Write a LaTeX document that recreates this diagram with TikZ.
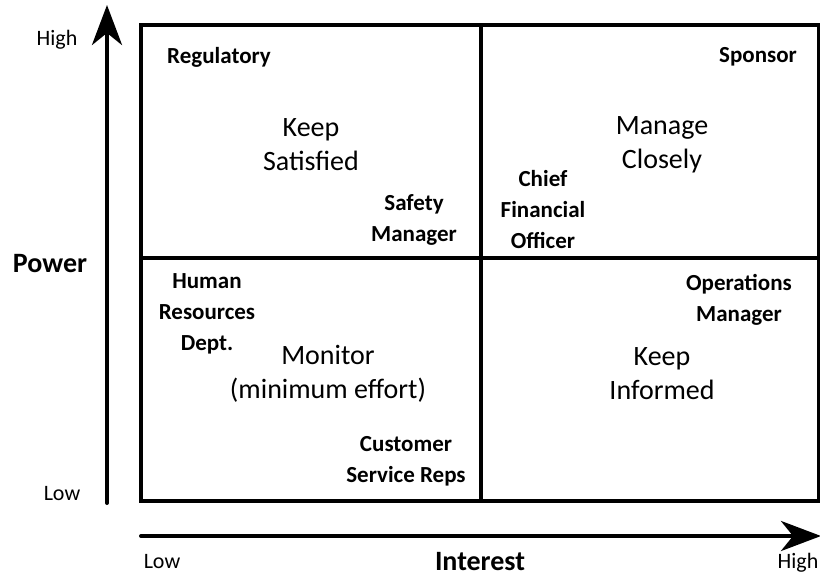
\documentclass[tikz,border=0pt]{standalone}
\usepackage{fontspec}
\setmainfont{Carlito}
\usetikzlibrary{arrows.meta}

\tikzset{%
   quadrant/.style={
    align=center,
    inner sep=0pt,
    font=\fontsize{28}{34}\selectfont
  },
   stakeholder/.style={
    align=center,
    inner sep=0pt,
    font=\bfseries\fontsize{23}{31}\selectfont
  },
   axis title/.style={
    inner sep=0pt,
    font=\bfseries\fontsize{28}{33}\selectfont
  },
   axis end/.style={
    inner sep=0pt,
    font=\fontsize{22}{25}\selectfont
  },
   axis/.style={
    line width=4pt,
    line cap=round,
    -{Stealth[length=40pt,width=30pt,inset=12pt]}
  },
}

\begin{document}
\begin{tikzpicture}[x=1pt, y=-1pt]
\useasboundingbox (0,0) rectangle (820,577);
%=========================================================================================================
% Grid
%=========================================================================================================

%Outer frame and the two dividing lines
\draw [line width=4pt] (141,25) rectangle (819,501);
\draw [line width=4pt] (481,25) -- (481,501);
\draw [line width=4pt] (141,258) -- (819,258);

%=========================================================================================================
% Axes
%=========================================================================================================

\coordinate (power-low) at (107,503);
\coordinate (power-high) at (107,5);
\coordinate (interest-low) at (141,536);
\coordinate (interest-high) at (821,536);

\draw [axis] (power-low) -- (power-high);
\draw [axis] (interest-low) -- (interest-high);

%Axis titles and ends
\node [axis title] (power) at (50,264) {Power};
\node [axis title] (interest) at (480,562) {Interest};

\foreach \l/\x/\y [count=\i] in {High/57/40, Low/62/494, Low/162/562, High/798/563}
  \node [axis end] (end-\i) at (\x,\y) {\l};

%=========================================================================================================
% Quadrant names
%=========================================================================================================

\node [quadrant] (satisfied) at (311,145) {Keep\\Satisfied};
\node [quadrant] (closely) at (662,145) {Manage\\Closely};
\node [quadrant] (monitor) at (328,374) {Monitor\\(minimum effort)};
\node [quadrant] (informed) at (662,374) {Keep\\Informed};

%=========================================================================================================
% Stakeholders
%=========================================================================================================

\node [stakeholder] (regulatory) at (219,57) {Regulatory};
\node [stakeholder] (sponsor) at (758,57) {Sponsor};
\node [stakeholder] (safety) at (414,220) {Safety\\Manager};
\node [stakeholder] (cfo) at (543,210) {Chief\\Financial\\Officer};
\node [stakeholder] (hr) at (207,314) {Human\\Resources\\Dept.};
\node [stakeholder] (operations) at (739,300) {Operations\\Manager};
\node [stakeholder] (service) at (406,461) {Customer\\Service Reps};

\end{tikzpicture}
\end{document}
